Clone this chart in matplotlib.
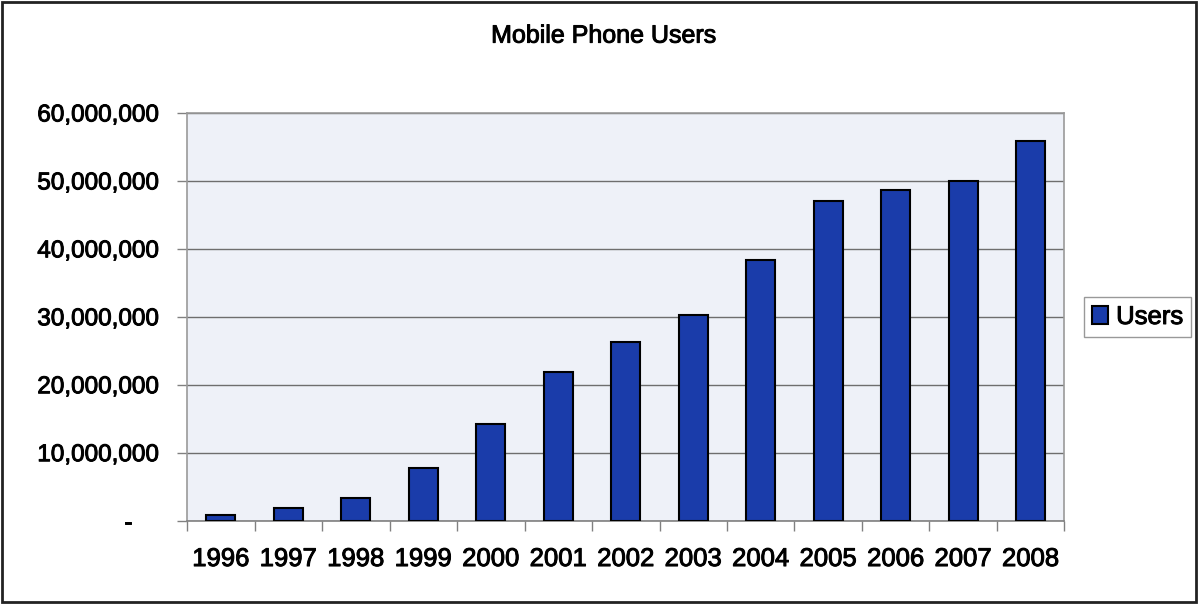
import matplotlib
matplotlib.use("Agg")
import matplotlib.pyplot as plt
import matplotlib.patheffects as pe
from matplotlib.ticker import FuncFormatter, MultipleLocator
from matplotlib.patches import Rectangle

years = ["1996", "1997", "1998", "1999", "2000", "2001", "2002",
         "2003", "2004", "2005", "2006", "2007", "2008"]
users = [850000, 1800000, 3300000, 7700000, 14200000, 21900000, 26300000,
         30300000, 38400000, 47100000, 48600000, 50000000, 55800000]

plt.rcParams['font.family'] = ['Liberation Sans', 'DejaVu Sans']

# slightly heavier strokes for all the text
heavy = [pe.withStroke(linewidth=0.7, foreground='black')]

fig = plt.figure(figsize=(12, 6.04), dpi=100)
fig.patch.set_facecolor('white')
ax = fig.add_axes([0.156, 0.138, 0.731, 0.675])
ax.set_facecolor('#eef1f8')

x = range(len(years))
ax.bar(x, users, width=0.43, color='#1a3caa', edgecolor='black',
       linewidth=1.5, label='Users', zorder=3)

ax.set_xlim(-0.5, len(years) - 0.5)
ax.set_ylim(0, 60000000)
ax.yaxis.set_major_locator(MultipleLocator(10000000))
# accounting style: zero shown as a dash, padded like two digits
ax.yaxis.set_major_formatter(FuncFormatter(
    lambda v, p: '-\u2007\u2007' if v == 0 else f'{v:,.0f}'))
ax.grid(axis='y', color='#6e6e6e', linewidth=1, zorder=1)

ax.set_xticks(list(x))
ax.set_xticklabels(years)
ax.set_xticks([i - 0.5 for i in range(len(years) + 1)], minor=True)
ax.tick_params(axis='x', which='major', length=0, pad=19, labelsize=18.5)
ax.tick_params(axis='x', which='minor', length=7, width=1, color='#808080')
ax.tick_params(axis='y', length=7, width=1, color='#808080', pad=13, labelsize=17.5)
for lbl in ax.get_xticklabels() + ax.get_yticklabels():
    lbl.set_path_effects(heavy)

for s in ax.spines.values():
    s.set_color('#9a9a9a')
    s.set_linewidth(1.2)
ax.spines['bottom'].set_color('#808080')

fig.text(0.503, 0.941, 'Mobile Phone Users', ha='center', va='center',
         fontsize=18, path_effects=heavy)

leg = fig.legend(loc='center left', bbox_to_anchor=(1084 / 1200, 1 - 317 / 604),
                 fontsize=18.5, frameon=True, fancybox=False, handlelength=0.65,
                 handleheight=0.65, handletextpad=0.3, borderpad=0.3,
                 borderaxespad=0)
leg.get_frame().set_edgecolor('#808080')
leg.get_frame().set_linewidth(1)
for t in leg.get_texts():
    t.set_path_effects(heavy)

# outer chart border
fig.patches.append(Rectangle((0.002, 0.004), 0.995, 0.992, transform=fig.transFigure,
                             fill=False, edgecolor='#222222', linewidth=2))

fig.savefig('out.png', dpi=100)
